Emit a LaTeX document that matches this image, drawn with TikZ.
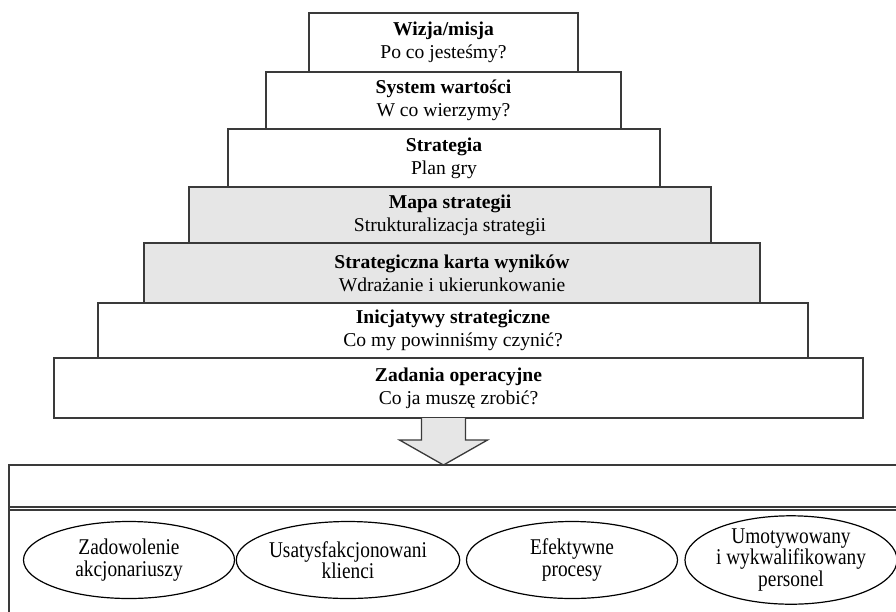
\documentclass[tikz,border=0pt]{standalone}
\usepackage{fontspec}
\setmainfont{Liberation Serif}
\newfontfamily\goalfont[FakeStretch=0.86]{Liberation Serif}
\definecolor{LevelGrey}{HTML}{E6E6E6}
\definecolor{EdgeGrey}{HTML}{3A3A3A}
\usetikzlibrary{calc,positioning,shapes.geometric}

\begin{document}
\begin{tikzpicture}[x=1pt, y=-1pt,
  level/.style={draw=EdgeGrey, line width=1.3pt, fill=white, inner sep=0pt, outer sep=0pt,
    align=center, font=\fontsize{19.6}{23}\selectfont},
  keylevel/.style={level, fill=LevelGrey},
  goal/.style={ellipse, draw=black, line width=1.2pt, inner sep=0pt,
    minimum width=211pt, minimum height=77pt, align=center,
    font=\goalfont\fontsize{22.5}{21.5}\selectfont},
  blockarrow/.style={draw=EdgeGrey, line width=1.3pt, fill=LevelGrey}]

 \useasboundingbox (0,0) rectangle (896,611);
 \clip (0,0) rectangle (896,611);

 % pyramid, top to bottom
 \node (wiz) [level, minimum width=269pt, minimum height=59pt] at (443.5,42.5)
  {\textbf{Wizja/misja}\\Po co jesteśmy?};
 \node (sys) [level, minimum width=355pt, minimum height=57pt] at (443.5,100.5)
  {\textbf{System wartości}\\W co wierzymy?};
 \node (str) [level, minimum width=432pt, minimum height=58pt] at (444,158)
  {\textbf{Strategia}\\Plan gry};
 \node (map) [keylevel, minimum width=522pt, minimum height=56pt] at (450,215)
  {\textbf{Mapa strategii}\\Strukturalizacja strategii};
 \node (bsc) [keylevel, minimum width=616pt, minimum height=60pt] at (452,273)
  {\textbf{Strategiczna karta wyników}\\Wdrażanie i ukierunkowanie};
 \node (ini) [level, minimum width=710pt, minimum height=55pt] at (453,330.5)
  {\textbf{Inicjatywy strategiczne}\\Co my powinniśmy czynić?};
 \node (zad) [level, minimum width=809pt, minimum height=60pt] at (458.5,388)
  {\textbf{Zadania operacyjne}\\Co ja muszę zrobić?};

 % outcomes frame
 \node (frame) [draw=EdgeGrey, line width=1.3pt, inner sep=0pt, outer sep=0pt,
  minimum width=900pt, minimum height=160pt] at (459,545) {};
 \draw[EdgeGrey, line width=1.1pt]
  ([yshift=-42pt]frame.north west) -- ([yshift=-42pt]frame.north east)
  ([yshift=-45pt]frame.north west) -- ([yshift=-45pt]frame.north east);

 \path (wiz.center |- zad.south) coordinate (a0)
       (wiz.center |- frame.north) coordinate (a1);
 \draw[blockarrow] ($(a0)+(-22,0)$) -- ($(a0)+(-22,22)$) -- ($(a0)+(-44,22)$) -- (a1)
  -- ($(a0)+(44,22)$) -- ($(a0)+(22,22)$) -- ($(a0)+(22,0)$);

 \node (akc) [goal] at (129,560) {Zadowolenie\\akcjonariuszy};
 \node (kli) [goal] at (348,560) {Usatysfakcjonowani\\klienci};
 \node (pro) [goal] at (572,560) {Efektywne\\procesy};
 \node (per) [goal] at (791,560) {Umotywowany\\i wykwalifikowany\\personel};

\end{tikzpicture}
\end{document}
